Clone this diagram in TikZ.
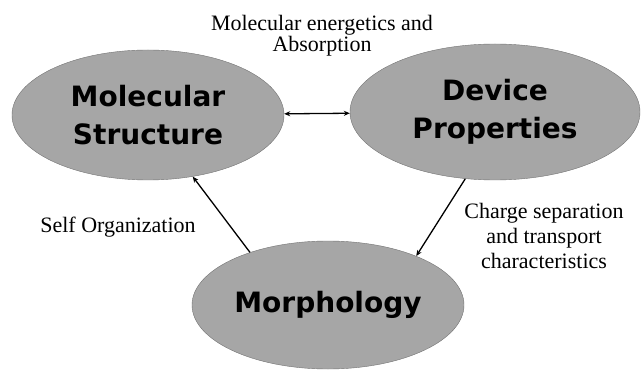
\documentclass[tikz,border=0pt]{standalone}
\usepackage{fontspec}
\setmainfont{Liberation Serif}
\newfontfamily\blobfont{DejaVu Sans}
\usetikzlibrary{shapes.geometric,arrows.meta}

\tikzset{
    blob/.style={ellipse, fill=black!35, draw=black!55, thin, align=center,
        font=\blobfont\bfseries\fontsize{28}{38}\selectfont, inner sep=0pt},
    tip/.tip={Stealth[length=6pt,width=5pt]},
    link/.style={line width=1.3pt, -tip},
    note/.style={align=center, font=\fontsize{22}{25}\selectfont}
}

\begin{document}
\begin{tikzpicture}[x=1pt,y=-1pt]
    \useasboundingbox (0,0) rectangle (644,371);

    \node[blob, minimum width=272, minimum height=130] (ms) at (148,115) {Molecular\\Structure};
    \node[blob, minimum width=290, minimum height=136] (dp) at (495,112) {Device\\Properties};
    \node[blob, minimum width=272, minimum height=128] (morph) at (328,305) {Morphology};

    \node[note, font=\fontsize{22}{21}\selectfont] (energy) at (322,36) {Molecular energetics and\\Absorption};
    \node[note] (self) at (118,227) {Self Organization};
    \node[note] (charge) at (544,236) {Charge separation\\and transport\\characteristics};

    \draw[link, tip-tip] (ms) -- (dp);
    \draw[link] (morph.146) -- (ms.306);
    \draw[link] (dp.246) -- (morph.29);

\end{tikzpicture}
\end{document}
